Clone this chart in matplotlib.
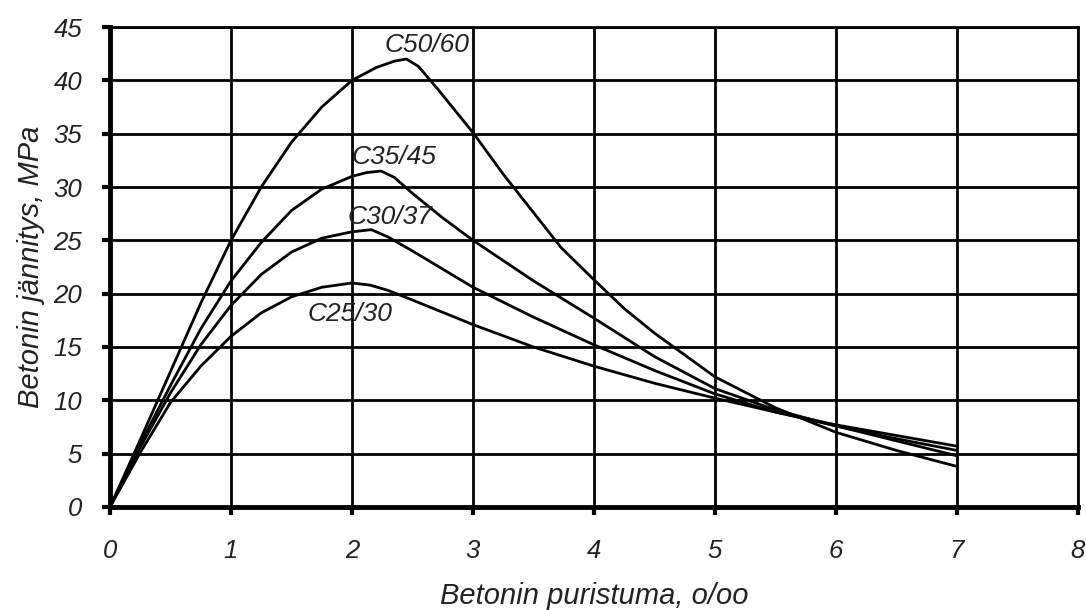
import numpy as np
import matplotlib
matplotlib.use("Agg")
import matplotlib.pyplot as plt

plt.rcParams['font.family'] = ['Liberation Sans', 'DejaVu Sans']

# strain (o/oo) and stress (MPa)
x_c50 = [0, 0.25, 0.5, 0.75, 1.0, 1.25, 1.5, 1.75, 2.0, 2.2, 2.35, 2.45, 2.55, 2.7, 3.0, 3.25, 3.5, 3.73, 4.0, 4.25, 4.5, 5.0, 5.5, 6.0, 6.5, 7.0]
y_c50 = [0, 6.3, 12.7, 19.1, 25.0, 30.0, 34.2, 37.5, 40.0, 41.2, 41.8, 42.0, 41.3, 39.3, 35.1, 31.2, 27.6, 24.3, 21.3, 18.6, 16.3, 12.2, 9.3, 7.0, 5.3, 3.8]

x_c35 = [0, 0.25, 0.5, 0.75, 1.0, 1.25, 1.5, 1.75, 2.0, 2.12, 2.24, 2.35, 2.5, 2.75, 3.0, 3.5, 4.0, 4.5, 5.0, 5.5, 6.0, 6.5, 7.0]
y_c35 = [0, 5.9, 11.4, 16.7, 21.2, 24.8, 27.8, 29.8, 31.0, 31.35, 31.5, 30.9, 29.4, 27.1, 25.0, 21.2, 17.7, 14.1, 11.1, 9.1, 7.6, 6.2, 4.8]

x_c30 = [0, 0.25, 0.5, 0.75, 1.0, 1.25, 1.5, 1.75, 2.0, 2.16, 2.3, 2.5, 2.75, 3.0, 3.5, 4.0, 4.5, 5.0, 5.5, 6.0, 6.5, 7.0]
y_c30 = [0, 5.6, 10.7, 15.2, 18.9, 21.8, 23.9, 25.2, 25.8, 26.0, 25.3, 24.0, 22.3, 20.6, 17.8, 15.2, 12.8, 10.6, 8.9, 7.6, 6.4, 5.3]

x_c25 = [0, 0.25, 0.5, 0.75, 1.0, 1.25, 1.5, 1.75, 2.0, 2.15, 2.3, 2.5, 3.0, 3.5, 4.0, 4.5, 5.0, 5.5, 6.0, 6.5, 7.0]
y_c25 = [0, 5.1, 9.8, 13.2, 16.0, 18.2, 19.7, 20.6, 21.0, 20.8, 20.3, 19.4, 17.1, 15.0, 13.2, 11.6, 10.2, 8.9, 7.7, 6.7, 5.7]

labels = ["C50/60", "C35/45", "C30/37", "C25/30"]
label_x = [2.62, 2.35, 2.31, 1.98]
label_y = [43.3, 32.8, 27.2, 18.1]

fig = plt.figure(figsize=(10.86, 6.10), dpi=100)
ax = fig.add_axes([0.1013, 0.1689, 0.8913, 0.7868])

for xs, ys in [(x_c50, y_c50), (x_c35, y_c35), (x_c30, y_c30), (x_c25, y_c25)]:
    ax.plot(xs, ys, color='black', lw=2, solid_joinstyle='round', zorder=3)

for lab, lx, ly in zip(labels, label_x, label_y):
    ax.text(lx, ly, lab, fontsize=19, style='italic', ha='center', va='center', color='#222222', zorder=4)

ax.set_xlim(0, 8)
ax.set_ylim(0, 45)
ax.set_xticks(range(0, 9))
ax.set_yticks(range(0, 46, 5))
ax.grid(True, color='black', lw=2)
ax.set_axisbelow(True)

for s in ['top', 'right']:
    ax.spines[s].set_linewidth(2)
for s in ['left', 'bottom']:
    ax.spines[s].set_linewidth(3.5)

ax.tick_params(axis='both', direction='out', length=6, width=3, labelsize=18.5, color='black', labelcolor='#222222')
ax.tick_params(axis='x', pad=17)
ax.tick_params(axis='y', pad=14)
for t in ax.get_xticklabels() + ax.get_yticklabels():
    t.set_style('italic')

ax.set_xlabel("Betonin puristuma, o/oo", fontsize=21, style='italic', labelpad=14, color='#222222')
ax.set_ylabel("Betonin jännitys, MPa", fontsize=21, style='italic', labelpad=6, color='#222222')

fig.savefig("out.png", dpi=100)
